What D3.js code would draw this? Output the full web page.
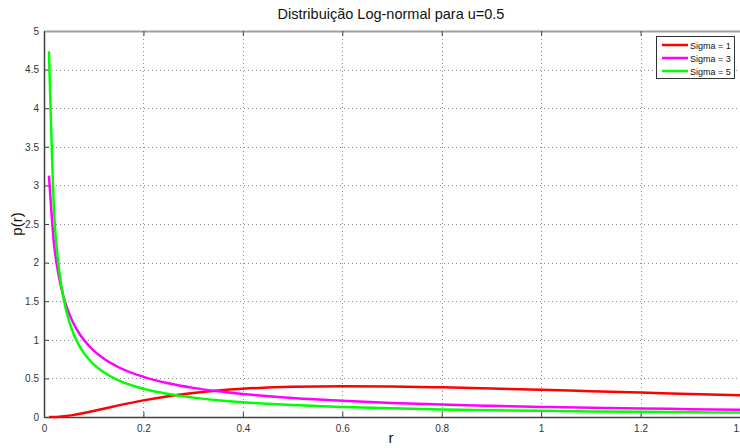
<!DOCTYPE html>
<html>
<head>
<meta charset="utf-8">
<script src="https://cdn.jsdelivr.net/npm/d3@7.9.0/dist/d3.min.js"></script>
<style>
  body { margin: 0; background: #fff; }
  svg { display: block; font-family: "Liberation Sans", Arial, sans-serif; }
</style>
</head>
<body>
<svg id="chart" width="740" height="448"></svg>
<script>
// values (r vs p(r))
const rValues = [0.01, 0.02, 0.03, 0.04, 0.05, 0.06, 0.07, 0.08, 0.10, 0.12, 0.15, 0.2, 0.25, 0.3, 0.35, 0.4, 0.5, 0.6, 0.7, 0.8, 0.9, 1.0, 1.1, 1.2, 1.3, 1.4];
const sigma1 = [0.0001, 0.0012, 0.0044, 0.0099, 0.0177, 0.0275, 0.0388, 0.0513, 0.0786, 0.1073, 0.1503, 0.2156, 0.2694, 0.3114, 0.3430, 0.3658, 0.3916, 0.3989, 0.3949, 0.3840, 0.3691, 0.3521, 0.3342, 0.3161, 0.2983, 0.2812];
const sigma3 = [3.126, 2.255, 1.817, 1.542, 1.349, 1.204, 1.091, 0.9995, 0.8596, 0.7567, 0.6443, 0.5193, 0.4365, 0.3772, 0.3325, 0.2974, 0.2457, 0.2094, 0.1824, 0.1615, 0.1448, 0.1311, 0.1198, 0.1102, 0.1020, 0.0948];
const sigma5 = [4.738, 2.703, 1.929, 1.513, 1.250, 1.068, 0.9336, 0.8305, 0.6819, 0.5796, 0.4742, 0.3650, 0.2972, 0.2510, 0.2173, 0.1916, 0.1551, 0.1303, 0.1123, 0.0987, 0.0880, 0.0794, 0.0723, 0.0664, 0.0613, 0.0570];
const seriesNames = ['Sigma = 1', 'Sigma = 3', 'Sigma = 5'];
const seriesColors = ['#ff0000', '#ff00ff', '#00ff00'];
const xTicks = [0, 0.2, 0.4, 0.6, 0.8, 1, 1.2, 1.4];
const yTicks = [0, 0.5, 1, 1.5, 2, 2.5, 3, 3.5, 4, 4.5, 5];

const svg = d3.select('#chart');
const plotLeft = 44, plotRight = 740, plotTop = 31, plotBottom = 417;

const x = d3.scaleLinear().domain([0, 1.4]).range([plotLeft, plotRight]);
const y = d3.scaleLinear().domain([0, 5]).range([plotBottom, plotTop]);

// grid lines (dotted)
const grid = svg.append('g').attr('stroke', '#8c8c8c').attr('stroke-width', 1).attr('stroke-dasharray', '1,3');
xTicks.slice(1).forEach((t) => {
  grid.append('line').attr('x1', Math.round(x(t)) + 0.5).attr('x2', Math.round(x(t)) + 0.5).attr('y1', plotTop).attr('y2', plotBottom);
});
yTicks.slice(1, -1).forEach((t) => {
  grid.append('line').attr('x1', plotLeft).attr('x2', plotRight).attr('y1', Math.round(y(t)) + 0.5).attr('y2', Math.round(y(t)) + 0.5);
});

// axes, ticks pointing inwards like matlab
const xAxis = svg.append('g')
  .attr('transform', `translate(0,${plotBottom})`)
  .call(d3.axisBottom(x).tickValues(xTicks).tickSizeInner(-5).tickSizeOuter(0).tickPadding(8).tickFormat(d3.format('')));
const yAxis = svg.append('g')
  .attr('transform', `translate(${plotLeft},0)`)
  .call(d3.axisLeft(y).tickValues(yTicks).tickSizeInner(-5).tickSizeOuter(0).tickPadding(5).tickFormat(d3.format('')));
const topAxis = svg.append('g')
  .attr('transform', `translate(0,${plotTop})`)
  .call(d3.axisTop(x).tickValues(xTicks).tickSizeInner(-5).tickSizeOuter(0).tickFormat(''));

[xAxis, yAxis].forEach((g) => {
  g.selectAll('.domain').attr('stroke', '#404040').attr('stroke-width', 1.5);
  g.selectAll('.tick line').attr('stroke', '#404040');
  g.selectAll('text').attr('fill', '#333').attr('font-size', 10).attr('font-family', '"Liberation Sans", Arial, sans-serif');
});
topAxis.selectAll('.domain').attr('stroke', '#a0a0a0').attr('stroke-width', 2);
topAxis.selectAll('.tick line').attr('stroke', '#404040');

// curves
const allSeries = [sigma1, sigma3, sigma5];
const line = d3.line()
  .x((d, i) => x(rValues[i]))
  .y((d) => y(d))
  .curve(d3.curveMonotoneX);

allSeries.forEach((s, i) => {
  svg.append('path')
    .datum(s)
    .attr('d', line)
    .attr('fill', 'none')
    .attr('stroke', seriesColors[i])
    .attr('stroke-width', 2.5);
});

// legend
const legend = svg.append('g');
legend.append('rect')
  .attr('x', 656.5).attr('y', 36.5).attr('width', 78).attr('height', 42)
  .attr('fill', '#fff').attr('stroke', '#333').attr('stroke-width', 1);
seriesNames.forEach((name, i) => {
  const ly = 45 + i * 13;
  legend.append('line')
    .attr('x1', 662).attr('x2', 688).attr('y1', ly).attr('y2', ly)
    .attr('stroke', seriesColors[i]).attr('stroke-width', 2.5);
  legend.append('text')
    .attr('x', 690).attr('y', ly + 3.5)
    .attr('font-size', 9).attr('fill', '#111')
    .text(name);
});

// labels
svg.append('text')
  .attr('x', 391).attr('y', 19)
  .attr('text-anchor', 'middle').attr('font-size', 14.5).attr('fill', '#111')
  .text('Distribuição Log-normal para u=0.5');
svg.append('text')
  .attr('x', 391).attr('y', 443)
  .attr('text-anchor', 'middle').attr('font-size', 15).attr('fill', '#111')
  .text('r');
svg.append('text')
  .attr('transform', 'translate(22,224) rotate(-90)')
  .attr('text-anchor', 'middle').attr('font-size', 15).attr('fill', '#111')
  .text('p(r)');
</script>
</body>
</html>
